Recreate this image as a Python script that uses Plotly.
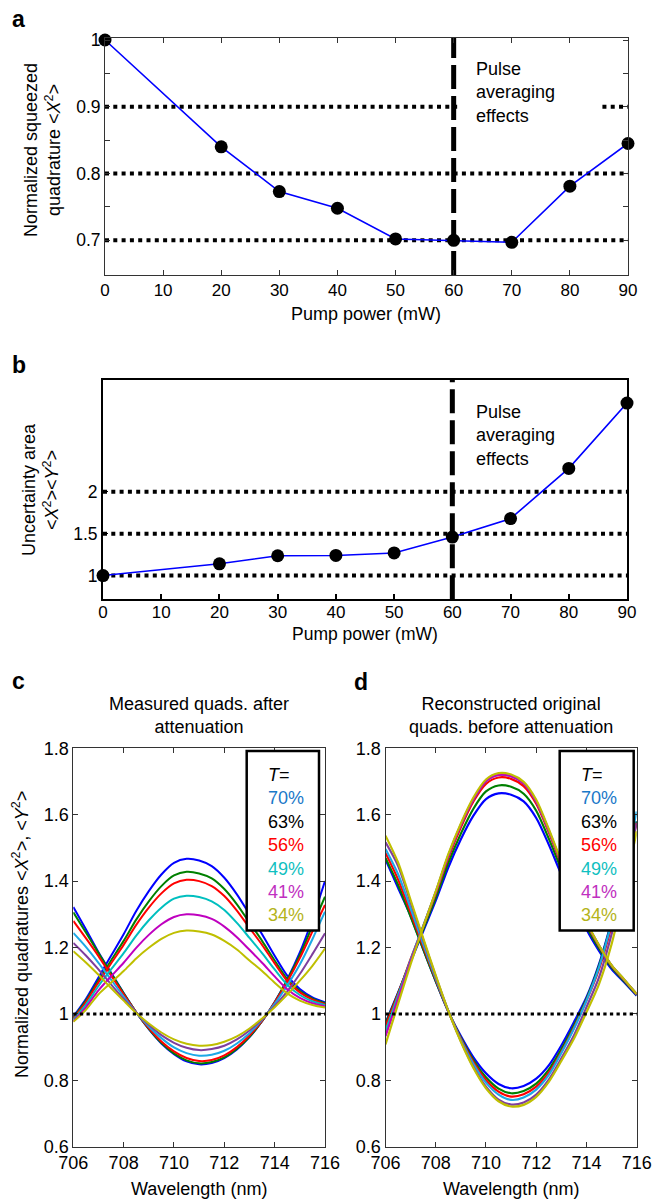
import plotly.graph_objects as go

W, H = 654, 1203
FONT = "Liberation Sans, Arial, Helvetica, sans-serif"

# ---------------- panels a & b ----------------
pump_power = [0, 20, 30, 40, 50, 60, 70, 80, 90]
squeezed_quad = [1.000, 0.840, 0.773, 0.748, 0.702, 0.700, 0.697, 0.781, 0.845]
uncertainty_area = [1.00, 1.14, 1.236, 1.24, 1.27, 1.46, 1.68, 2.28, 3.06]
a_ref_levels = [0.7, 0.8]
a_broken_level = 0.9
a_break = [60.6, 85.6]
b_ref_levels = [1.0, 1.5, 2.0]
pulse_avg_power = 60

# ---------------- panels c & d ----------------
wavelength = [706.0, 706.5, 707.0, 707.5, 708.0, 708.5, 709.0, 709.5, 710.0, 710.5, 711.0,
              711.5, 712.0, 712.5, 713.0, 713.5, 714.0, 714.5, 715.0, 715.5, 716.0]
transmission = ["70%", "63%", "56%", "49%", "41%", "34%"]

c_max_70 = [0.992, 1.045, 1.110, 1.175, 1.240, 1.310, 1.370, 1.420, 1.455, 1.467, 1.462, 1.445, 1.410, 1.360, 1.300, 1.240, 1.175, 1.115, 1.075, 1.050, 1.035]
c_max_63 = [0.988, 1.040, 1.101, 1.161, 1.220, 1.284, 1.339, 1.385, 1.417, 1.428, 1.423, 1.408, 1.376, 1.330, 1.275, 1.220, 1.161, 1.105, 1.069, 1.046, 1.032]
c_max_56 = [0.985, 1.036, 1.095, 1.152, 1.208, 1.268, 1.320, 1.363, 1.393, 1.404, 1.400, 1.385, 1.355, 1.311, 1.259, 1.208, 1.152, 1.099, 1.065, 1.043, 1.030]
c_max_49 = [0.982, 1.028, 1.084, 1.134, 1.183, 1.236, 1.282, 1.320, 1.347, 1.356, 1.352, 1.339, 1.313, 1.274, 1.229, 1.183, 1.134, 1.088, 1.057, 1.038, 1.027]
c_max_41 = [0.978, 1.020, 1.071, 1.113, 1.154, 1.199, 1.238, 1.270, 1.292, 1.300, 1.297, 1.286, 1.263, 1.231, 1.193, 1.154, 1.113, 1.074, 1.048, 1.032, 1.023]
c_max_34 = [0.976, 1.012, 1.059, 1.094, 1.129, 1.167, 1.199, 1.226, 1.244, 1.251, 1.248, 1.239, 1.220, 1.194, 1.161, 1.129, 1.094, 1.062, 1.040, 1.027, 1.019]

c_min_70 = [1.322, 1.255, 1.186, 1.124, 1.063, 1.005, 0.954, 0.911, 0.879, 0.857, 0.848, 0.852, 0.867, 0.893, 0.930, 0.978, 1.036, 1.104, 1.185, 1.285, 1.400]
c_min_63 = [1.306, 1.245, 1.183, 1.122, 1.062, 1.005, 0.955, 0.913, 0.881, 0.860, 0.851, 0.855, 0.869, 0.895, 0.931, 0.978, 1.035, 1.102, 1.177, 1.265, 1.353]
c_min_56 = [1.280, 1.228, 1.174, 1.116, 1.059, 1.005, 0.957, 0.917, 0.887, 0.867, 0.858, 0.861, 0.875, 0.900, 0.935, 0.979, 1.034, 1.097, 1.168, 1.248, 1.328]
c_min_49 = [1.244, 1.202, 1.154, 1.103, 1.052, 1.004, 0.962, 0.927, 0.899, 0.882, 0.874, 0.877, 0.889, 0.911, 0.942, 0.982, 1.030, 1.086, 1.149, 1.225, 1.308]
c_min_41 = [1.214, 1.176, 1.134, 1.089, 1.045, 1.004, 0.967, 0.936, 0.913, 0.898, 0.891, 0.894, 0.904, 0.923, 0.950, 0.984, 1.024, 1.068, 1.120, 1.180, 1.243]
c_min_34 = [1.189, 1.155, 1.118, 1.078, 1.040, 1.003, 0.971, 0.944, 0.923, 0.910, 0.904, 0.906, 0.916, 0.932, 0.956, 0.986, 1.020, 1.058, 1.100, 1.145, 1.197]

d_max_70 = [0.973, 1.064, 1.157, 1.249, 1.341, 1.441, 1.526, 1.597, 1.647, 1.664, 1.660, 1.640, 1.590, 1.510, 1.420, 1.340, 1.255, 1.190, 1.135, 1.095, 1.055]
d_max_63 = [0.970, 1.062, 1.160, 1.255, 1.350, 1.455, 1.543, 1.618, 1.670, 1.688, 1.684, 1.663, 1.612, 1.528, 1.436, 1.352, 1.264, 1.197, 1.140, 1.098, 1.057]
d_max_56 = [0.963, 1.060, 1.165, 1.262, 1.362, 1.470, 1.562, 1.640, 1.693, 1.712, 1.708, 1.686, 1.633, 1.547, 1.451, 1.365, 1.273, 1.204, 1.145, 1.102, 1.059]
d_max_49 = [0.948, 1.055, 1.163, 1.265, 1.367, 1.477, 1.570, 1.647, 1.701, 1.720, 1.716, 1.694, 1.640, 1.553, 1.456, 1.369, 1.276, 1.206, 1.146, 1.103, 1.060]
d_max_41 = [0.933, 1.045, 1.158, 1.263, 1.367, 1.477, 1.570, 1.647, 1.701, 1.720, 1.716, 1.694, 1.640, 1.553, 1.456, 1.369, 1.276, 1.206, 1.146, 1.103, 1.060]
d_max_34 = [0.908, 1.030, 1.150, 1.262, 1.369, 1.481, 1.574, 1.652, 1.706, 1.725, 1.721, 1.699, 1.645, 1.557, 1.459, 1.371, 1.278, 1.207, 1.147, 1.104, 1.060]

d_min_70 = [1.465, 1.380, 1.295, 1.195, 1.098, 1.007, 0.933, 0.869, 0.821, 0.789, 0.776, 0.783, 0.805, 0.845, 0.905, 0.975, 1.050, 1.150, 1.280, 1.430, 1.580]
d_min_63 = [1.470, 1.389, 1.293, 1.195, 1.099, 1.008, 0.928, 0.861, 0.809, 0.775, 0.761, 0.768, 0.790, 0.832, 0.893, 0.965, 1.045, 1.145, 1.275, 1.425, 1.580]
d_min_56 = [1.485, 1.405, 1.305, 1.203, 1.103, 1.008, 0.925, 0.855, 0.801, 0.766, 0.751, 0.758, 0.781, 0.823, 0.885, 0.958, 1.040, 1.135, 1.265, 1.420, 1.575]
d_min_49 = [1.497, 1.421, 1.318, 1.211, 1.107, 1.009, 0.922, 0.849, 0.793, 0.757, 0.741, 0.748, 0.772, 0.816, 0.882, 0.955, 1.040, 1.140, 1.275, 1.440, 1.610]
d_min_41 = [1.517, 1.446, 1.336, 1.224, 1.113, 1.009, 0.918, 0.840, 0.781, 0.742, 0.727, 0.733, 0.757, 0.802, 0.866, 0.935, 1.020, 1.110, 1.240, 1.400, 1.575]
d_min_34 = [1.537, 1.456, 1.343, 1.228, 1.116, 1.009, 0.916, 0.837, 0.776, 0.737, 0.721, 0.726, 0.750, 0.795, 0.858, 0.925, 1.005, 1.090, 1.210, 1.370, 1.550]

c_max = [c_max_70, c_max_63, c_max_56, c_max_49, c_max_41, c_max_34]
c_min = [c_min_70, c_min_63, c_min_56, c_min_49, c_min_41, c_min_34]
d_max = [d_max_70, d_max_63, d_max_56, d_max_49, d_max_41, d_max_34]
d_min = [d_min_70, d_min_63, d_min_56, d_min_49, d_min_41, d_min_34]

max_colors = ["#0000FF", "#008000", "#FF0000", "#00BFBF", "#BF00BF", "#BFBF00"]
min_colors = ["#0000FF", "#008000", "#FF0000", "#1CA9E6", "#7E3F9E", "#BFBF00"]
legend_colors = ["#1A78C8", "#000000", "#FF0000", "#10C0C0", "#C030C0", "#B4B41A"]


def px(x):
    return x / W


def py(y):
    return 1 - y / H


fig = go.Figure()

# ---- panel a ----
fig.add_trace(go.Scatter(x=pump_power, y=squeezed_quad, mode="lines+markers",
                         line=dict(color="#0000FF", width=1.6),
                         marker=dict(color="black", size=13),
                         cliponaxis=False, xaxis="x", yaxis="y"))
# ---- panel b ----
fig.add_trace(go.Scatter(x=pump_power, y=uncertainty_area, mode="lines+markers",
                         line=dict(color="#0000FF", width=1.6),
                         marker=dict(color="black", size=13),
                         cliponaxis=False, xaxis="x2", yaxis="y2"))

# ---- panels c & d ----
for i in range(6):
    fig.add_trace(go.Scatter(x=wavelength, y=c_min[i], mode="lines",
                             line=dict(color=min_colors[i], width=2, shape="spline", smoothing=0.8),
                             xaxis="x3", yaxis="y3"))
    fig.add_trace(go.Scatter(x=wavelength, y=c_max[i], mode="lines",
                             line=dict(color=max_colors[i], width=2, shape="spline", smoothing=0.8),
                             xaxis="x3", yaxis="y3"))
for i in range(6):
    fig.add_trace(go.Scatter(x=wavelength, y=d_min[i], mode="lines",
                             line=dict(color=min_colors[i], width=2.2, shape="spline", smoothing=0.8),
                             xaxis="x4", yaxis="y4"))
    fig.add_trace(go.Scatter(x=wavelength, y=d_max[i], mode="lines",
                             line=dict(color=max_colors[i], width=2.2, shape="spline", smoothing=0.8),
                             xaxis="x4", yaxis="y4"))

shapes = []
DOT_AB = dict(color="black", width=4, dash="4px,4.3px")
for lv in a_ref_levels:
    shapes.append(dict(type="line", xref="x", yref="y", x0=0, x1=90, y0=lv, y1=lv,
                       line=DOT_AB, layer="below"))
shapes.append(dict(type="line", xref="x", yref="y", x0=0, x1=a_break[0],
                   y0=a_broken_level, y1=a_broken_level, line=DOT_AB, layer="below"))
shapes.append(dict(type="line", xref="x", yref="y", x0=a_break[1], x1=90,
                   y0=a_broken_level, y1=a_broken_level, line=DOT_AB, layer="below"))
shapes.append(dict(type="line", xref="x", yref="y domain", x0=pulse_avg_power, x1=pulse_avg_power,
                   y0=0, y1=1, line=dict(color="black", width=5, dash="24px,7px"), layer="below"))
for lv in b_ref_levels:
    shapes.append(dict(type="line", xref="x2", yref="y2", x0=0, x1=90, y0=lv, y1=lv,
                       line=DOT_AB, layer="below"))
shapes.append(dict(type="line", xref="x2", yref="y2 domain", x0=pulse_avg_power, x1=pulse_avg_power,
                   y0=0, y1=1, line=dict(color="black", width=5, dash="24px,7px"), layer="below"))
for xr, yr in (("x3", "y3"), ("x4", "y4")):
    shapes.append(dict(type="line", xref=xr + " domain", yref=yr, x0=0, x1=1, y0=1, y1=1,
                       line=dict(color="black", width=3, dash="3.3px,3.3px"), layer="above"))

# legend boxes
for x0, x1 in ((246.7, 319.0), (559.7, 633.7)):
    shapes.append(dict(type="rect", xref="paper", yref="paper", x0=px(x0), x1=px(x1),
                       y0=py(930.5), y1=py(751), line=dict(color="black", width=2.5),
                       fillcolor="white", layer="above"))

annotations = []


def ann(text, x, y, size=18, xanchor="center", yanchor="middle", **kw):
    annotations.append(dict(text=text, x=px(x), y=py(y), xref="paper", yref="paper",
                            showarrow=False, xanchor=xanchor, yanchor=yanchor,
                            font=dict(family=FONT, size=size, color="black"), **kw))


# panel letters
ann("<b>a</b>", 18, 19, size=23)
ann("<b>b</b>", 19, 365, size=23)
ann("<b>c</b>", 18, 681, size=23)
ann("<b>d</b>", 361, 682, size=23)

# y titles
ann("Normalized squeezed<br>quadrature &lt;<i>X</i><sup>2</sup>&gt;", 42, 150, textangle=-90)
ann("Uncertainty area<br>&lt;<i>X</i><sup>2</sup>&gt;&lt;<i>Y</i><sup>2</sup>&gt;", 40, 490, textangle=-90)
ann("Normalized quadratures &lt;<i>X</i><sup>2</sup>&gt;, &lt;<i>Y</i><sup>2</sup>&gt;", 20, 935, textangle=-90)

# x titles
ann("Pump power (mW)", 366, 314)
ann("Pump power (mW)", 365, 634, size=17.5)
ann("Wavelength (nm)", 199, 1189)
ann("Wavelength (nm)", 511, 1189)

# c / d titles
ann("Measured quads. after<br>attenuation", 199, 715.5)
ann("Reconstructed original<br>quads. before attenuation", 511, 715.5)

# pulse averaging text
ann("Pulse<br>averaging<br>effects", 474, 92, xanchor="left", align="left")
ann("Pulse<br>averaging<br>effects", 474, 435.5, xanchor="left", align="left")

# legends
leg = "<i>T</i>=" + "".join(
    "<br><span style='color:%s'>%s</span>" % (c, t) for c, t in zip(legend_colors, transmission))
ann(leg, 266, 844.5, xanchor="left", align="left")
ann(leg, 579, 844.5, xanchor="left", align="left")


def axis(size=18, **kw):
    d = dict(showgrid=False, zeroline=False, showline=True, ticks="inside", ticklen=5,
             automargin=False, tickfont=dict(family=FONT, size=size, color="black"))
    d.update(kw)
    return d


GREY = "#333"
layout = dict(
    width=W, height=H, autosize=False, showlegend=False,
    margin=dict(l=0, r=0, t=0, b=0, pad=0),
    paper_bgcolor="white", plot_bgcolor="white",
    font=dict(family=FONT, size=18, color="black"),
    shapes=shapes, annotations=annotations,
    xaxis=axis(17, domain=[px(105), px(628)], range=[0, 90], anchor="y",
               tickvals=[0, 10, 20, 30, 40, 50, 60, 70, 80, 90],
               mirror="ticks", linecolor=GREY, linewidth=1, tickcolor=GREY),
    yaxis=axis(17.5, domain=[py(275), py(38)], range=[0.648, 1.003], anchor="x",
               tickvals=[0.7, 0.8, 0.9, 1.0], ticktext=["0.7", "0.8", "0.9", "1"],
               minor=dict(tickvals=[0.75, 0.85, 0.95], ticks="inside", ticklen=5, tickcolor=GREY),
               mirror="allticks", linecolor=GREY, linewidth=1, tickcolor=GREY),
    xaxis2=axis(17, domain=[px(103), px(627)], range=[0, 90], anchor="y2",
                tickvals=[0, 10, 20, 30, 40, 50, 60, 70, 80, 90], ticklabelstandoff=-4,
                mirror=True, linecolor="black", linewidth=2, tickcolor="black", tickwidth=2),
    yaxis2=axis(17.5, domain=[py(599.3), py(380)], range=[0.716, 3.336], anchor="x2",
                tickvals=[1, 1.5, 2], ticktext=["1", "1.5", "2"],
                mirror=True, linecolor="black", linewidth=2, tickcolor="black"),
    xaxis3=axis(18, domain=[px(73.3), px(325)], range=[706, 716], anchor="y3",
                tickvals=[706, 708, 710, 712, 714, 716],
                mirror="ticks", linecolor=GREY, linewidth=1, tickcolor=GREY),
    yaxis3=axis(18, domain=[py(1146.7), py(748.3)], range=[0.6, 1.8], anchor="x3",
                tickvals=[0.6, 0.8, 1.0, 1.2, 1.4, 1.6, 1.8],
                ticktext=["0.6", "0.8", "1", "1.2", "1.4", "1.6", "1.8"],
                mirror="ticks", linecolor=GREY, linewidth=1, tickcolor=GREY),
    xaxis4=axis(18, domain=[px(385.5), px(636.7)], range=[706, 716], anchor="y4",
                tickvals=[706, 708, 710, 712, 714, 716],
                mirror="ticks", linecolor=GREY, linewidth=1, tickcolor=GREY),
    yaxis4=axis(18, domain=[py(1146.7), py(748.3)], range=[0.6, 1.8], anchor="x4",
                tickvals=[0.6, 0.8, 1.0, 1.2, 1.4, 1.6, 1.8],
                ticktext=["0.6", "0.8", "1", "1.2", "1.4", "1.6", "1.8"],
                mirror="ticks", linecolor=GREY, linewidth=1, tickcolor=GREY),
)
fig.update_layout(**layout)
fig.write_html("out.html", config={"displayModeBar": False},
               post_script="document.body.style.margin='0';document.body.style.overflow='hidden';")
